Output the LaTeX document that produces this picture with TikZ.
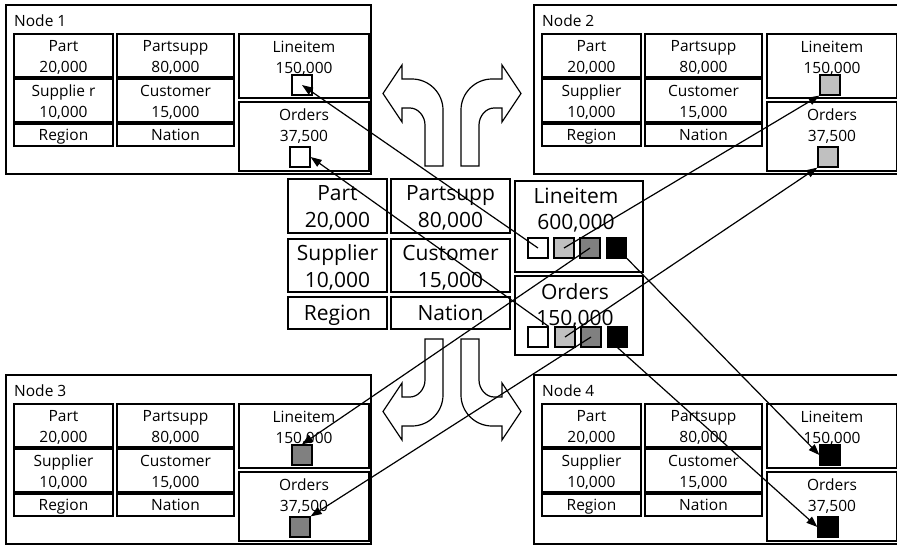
\documentclass[tikz,border=0pt]{standalone}
\usepackage{fontspec}
\setmainfont{Open Sans}
\usetikzlibrary{arrows.meta}
\definecolor{lgray}{HTML}{C0C0C0}
\definecolor{dgray}{HTML}{808080}
\newcommand\tabfont{\fontsize{15.5}{21}\selectfont}
\newcommand\bigtabfont{\fontsize{21}{26.5}\selectfont}
\tikzset{
  outerbox/.style={draw, line width=1.3pt, inner sep=0pt, minimum width=365pt, minimum height=169pt},
  cell/.style={draw, line width=1.5pt, inner sep=0pt},
  cell text/.style={inner sep=0pt, align=center, font=\tabfont},
  bigcell/.style={draw, line width=1.5pt, inner sep=0pt},
  bigcell text/.style={inner sep=0pt, align=center, font=\bigtabfont},
  sq/.style={draw, line width=1.2pt, minimum size=20pt, inner sep=0pt},
  link/.style={line width=1.2pt, -{Triangle[length=11pt,width=8pt]}},
  bigarrow/.style={draw, line width=1.2pt, fill=white, line join=miter}
}
% box with centred text: style, name, x, y, width, height, text
\newcommand\tcell[7]{%
  \node[#1, minimum width=#5pt, minimum height=#6pt] (#2) at (#3,#4) {};
  \node[#1 text] (#2t) at ([yshift=-2pt]#2.center) {#7};}
\newcommand\dbnode[5]{%
\begin{scope}[shift={(#5)}]
\node[outerbox] (#1box) at (188.5,89.5) {};
\node[cell text, anchor=west] (#1lbl) at (14,21) {Node #2};
\tcell{cell}{#1part}{63.5}{55.5}{99}{43}{Part\\20,000}
\tcell{cell}{#1psupp}{175.5}{55.5}{117}{43}{Partsupp\\80,000}
\tcell{cell}{#1supp}{63.5}{100.5}{99}{43}{#3\\10,000}
\tcell{cell}{#1cust}{175.5}{100.5}{117}{43}{Customer\\15,000}
\tcell{cell}{#1reg}{63.5}{135}{99}{22}{Region}
\tcell{cell}{#1nat}{175.5}{135}{117}{22}{Nation\vphantom{g}}
\node[cell, minimum width=130pt, minimum height=64pt] (#1libox) at (304,66) {};
\node[cell text] (#1litxt) at (304,58) {Lineitem\\150,000};
\node[sq, fill=#4] (#1li) at (302,85) {};
\node[cell, minimum width=130pt, minimum height=69pt] (#1orbox) at (304,136.5) {};
\node[cell text] (#1ortxt) at (304,126.5) {Orders\\37,500};
\node[sq, fill=#4] (#1or) at (300,157) {};
\end{scope}}
\begin{document}
\begin{tikzpicture}[x=1pt,y=-1pt]
\useasboundingbox[fill=white] (0,0) rectangle (897,547);
% four database nodes
\dbnode{n1}{1}{Supplie r}{white}{0,0}
\dbnode{n2}{2}{Supplier}{lgray}{528,0}
\dbnode{n3}{3}{Supplier}{dgray}{0,370}
\dbnode{n4}{4}{Supplier}{black}{528,370}
% bent block arrows
\draw[bigarrow] (425,166) -- (425,125) .. controls (425,116) and (418,108) .. (410,108)
  -- (402,108) -- (402,122) -- (383,93.5) -- (402,65) -- (402,79) -- (412,79)
  .. controls (429,79) and (443,93) .. (443,110) -- (443,166) -- cycle;
\draw[bigarrow] (479,166) -- (479,125) .. controls (479,116) and (486,108) .. (494,108)
  -- (502,108) -- (502,122) -- (521,93.5) -- (502,65) -- (502,79) -- (492,79)
  .. controls (475,79) and (461,93) .. (461,110) -- (461,166) -- cycle;
\draw[bigarrow] (425,339) -- (425,380) .. controls (425,389) and (418,397) .. (410,397)
  -- (402,397) -- (402,383) -- (383,411.5) -- (402,440) -- (402,426) -- (412,426)
  .. controls (429,426) and (443,412) .. (443,395) -- (443,339) -- cycle;
\draw[bigarrow] (479,339) -- (479,380) .. controls (479,389) and (486,397) .. (494,397)
  -- (502,397) -- (502,383) -- (521,411.5) -- (502,440) -- (502,426) -- (492,426)
  .. controls (475,426) and (461,412) .. (461,395) -- (461,339) -- cycle;
% central database
\tcell{bigcell}{cpart}{337.5}{206}{99}{54}{Part\\20,000}
\tcell{bigcell}{cpsupp}{450.5}{206}{119}{54}{Partsupp\\80,000}
\tcell{bigcell}{csupp}{337.5}{265.5}{99}{53}{Supplier\\10,000}
\tcell{bigcell}{ccust}{450.5}{265.5}{119}{53}{Customer\\15,000}
\tcell{bigcell}{creg}{337.5}{313}{99}{32}{Region}
\tcell{bigcell}{cnat}{450.5}{313}{119}{32}{Nation\vphantom{g}}
\node[bigcell, minimum width=128pt, minimum height=91pt] (clibox) at (579,226.5) {};
\node[bigcell text] (clitxt) at (576,210) {Lineitem\\600,000};
\node[sq, fill=white] (cli1) at (538,248) {};
\node[sq, fill=lgray] (cli2) at (564,248) {};
\node[sq, fill=dgray] (cli3) at (590,248) {};
\node[sq, fill=black] (cli4) at (616.5,248) {};
\node[bigcell, minimum width=128pt, minimum height=79pt] (corbox) at (579,315.5) {};
\node[bigcell text] (cortxt) at (575,306) {Orders\\150,000};
\node[sq, fill=white] (cor1) at (538,337) {};
\node[sq, fill=lgray] (cor2) at (565,337) {};
\node[sq, fill=dgray] (cor3) at (591,337) {};
\node[sq, fill=black] (cor4) at (617.5,337) {};
% distribution connectors
\draw[link] (cli1.center) -- (n1li.center);
\draw[link] (cor1.north east) -- (n1or.east);
\draw[link] (cli2.center) -- (n2li.south west);
\draw[link] (cor2.center) -- (n2or.south west);
\draw[link] (cli3.center) -- (n3li.north);
\draw[link] (cor3.center) -- (n3or.north east);
\draw[link] (cli4.south east) -- (n4li.west);
\draw[link] (cor4.south) -- (n4or.west);
\end{tikzpicture}
\end{document}
